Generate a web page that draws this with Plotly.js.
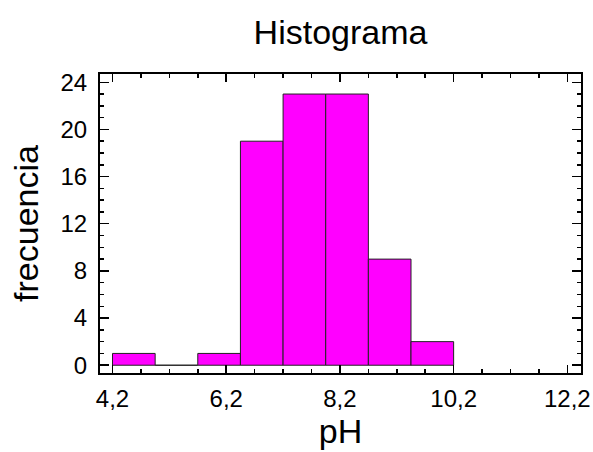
<!DOCTYPE html>
<html>
<head>
<meta charset="utf-8">
<script src="https://cdn.plot.ly/plotly-3.0.1.min.js"></script>
<style>html,body{margin:0;padding:0;background:#fff;}#chart{width:593px;height:452px;}</style>
</head>
<body>
<div id="chart"></div>
<script>
// Histogram bins (lower edges) and counts
const binLower = [4.2, 4.95, 5.7, 6.45, 7.2, 7.95, 8.7, 9.45];
const binWidth = 0.75;
const counts = [1, 0, 1, 19, 23, 23, 9, 2];
const xTickVals = [4.2, 6.2, 8.2, 10.2, 12.2];
const xTickText = ["4,2", "6,2", "8,2", "10,2", "12,2"];
const yTickVals = [0, 4, 8, 12, 16, 20, 24];

const font = "Liberation Sans, Arial, sans-serif";

const trace = {
  type: 'bar',
  x: binLower,
  y: counts,
  width: binLower.map(() => binWidth),
  offset: 0,
  marker: {color: '#FF00FF', line: {color: '#222222', width: 1}},
  hoverinfo: 'x+y'
};

const layout = {
  width: 593, height: 452,
  margin: {l: 100, r: 12, t: 74, b: 79},
  paper_bgcolor: '#ffffff', plot_bgcolor: '#ffffff',
  showlegend: false,
  bargap: 0,
  font: {family: font, color: '#000'},
  title: {text: 'Histograma', font: {size: 34, family: font, color: '#000'},
          x: 0.5, xref: 'paper', y: 0.928, yref: 'container', yanchor: 'middle'},
  xaxis: {
    range: [3.98, 12.44],
    tickvals: xTickVals, ticktext: xTickText,
    ticks: 'inside', ticklen: 8, tickwidth: 1.5, tickcolor: '#000',
    minor: {dtick: 0.5, tick0: 4.2, ticks: 'inside', ticklen: 4, tickwidth: 1.5, tickcolor: '#000', showgrid: false},
    showline: true, linecolor: '#000', linewidth: 2, mirror: 'ticks',
    showgrid: false, zeroline: false,
    ticklabelstandoff: 3,
    tickfont: {size: 24, family: font, color: '#000'},
    title: {text: 'pH', font: {size: 34, family: font, color: '#000'}, standoff: 2}
  },
  yaxis: {
    range: [-0.66, 24.7],
    tickvals: yTickVals,
    ticks: 'inside', ticklen: 9, tickwidth: 1.5, tickcolor: '#000',
    minor: {dtick: 1, tick0: 0, ticks: 'inside', ticklen: 4, tickwidth: 1.5, tickcolor: '#000', showgrid: false},
    showline: true, linecolor: '#000', linewidth: 2, mirror: 'ticks',
    showgrid: false, zeroline: false,
    ticklabelstandoff: 6,
    tickfont: {size: 24, family: font, color: '#000'},
    title: {text: 'frecuencia', font: {size: 34, family: font, color: '#000'}, standoff: 12}
  }
};

Plotly.newPlot('chart', [trace], layout, {displayModeBar: false, staticPlot: true});
</script>
</body>
</html>
